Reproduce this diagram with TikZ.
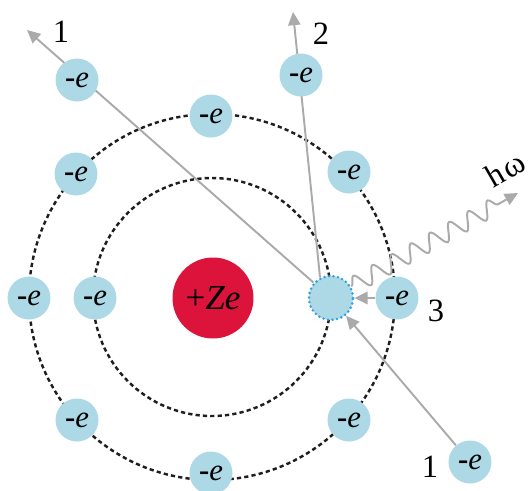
\documentclass[tikz,border=0pt]{standalone}
\usepackage{fontspec}
\setmainfont{Liberation Serif}
\usetikzlibrary{arrows.meta,backgrounds,decorations.pathmorphing}

\definecolor{elblue}{RGB}{173,216,230}
\definecolor{nucred}{RGB}{220,20,60}
\definecolor{vacblue}{RGB}{50,160,225}
\definecolor{trackgray}{RGB}{170,170,170}
\definecolor{orbitgray}{RGB}{30,30,30}

\begin{document}
\begin{tikzpicture}[x=0.02cm, y=-0.02cm,
    electron/.style={circle, fill=elblue, minimum size=0.86cm, inner sep=0pt,
                     font=\fontsize{17.5}{20}\selectfont},
    nucleus/.style={circle, fill=nucred, minimum size=1.62cm, inner sep=0pt,
                    font=\fontsize{20}{23}\selectfont},
    vacancy/.style={circle, fill=elblue, minimum size=0.88cm, inner sep=0pt,
                    draw=vacblue, line width=1.6pt, line cap=round,
                    dash pattern=on 0pt off 2.6pt},
    orbit/.style={draw=orbitgray, line width=1.4pt, dash pattern=on 2.4pt off 1.8pt},
    track/.style={draw=trackgray, line width=1.1pt},
    trackarrow/.style={track, -{Triangle[length=7.5pt, width=7pt]}},
    photon/.style={trackarrow, decorate,
                   decoration={snake, segment length=0.44cm, amplitude=0.17cm,
                               post length=0.3cm}},
    lbl/.style={font=\fontsize{18.5}{21}\selectfont},
]
\useasboundingbox (0,0) rectangle (532,491);

% atom
\coordinate (c) at (212,297);
\node[nucleus] (nuc) at (213,298) {+\textit{Ze}};

% outer shell
\node[electron] (o1) at (211,116) {\textbf{-}\textit{e}};
\node[electron] (o2) at (349,172) {\textbf{-}\textit{e}};
\node[electron] (o3) at (76,174) {\textbf{-}\textit{e}};
\node[electron] (o4) at (29,298) {\textbf{-}\textit{e}};
\node[electron] (e3) at (397,298) {\textbf{-}\textit{e}};
\node[electron] (o5) at (77,420) {\textbf{-}\textit{e}};
\node[electron] (o6) at (349,420) {\textbf{-}\textit{e}};
\node[electron] (o7) at (211,473) {\textbf{-}\textit{e}};

% inner shell
\node[electron] (i1) at (95,298) {\textbf{-}\textit{e}};
\node[vacancy] (vac) at (331,298) {};

% ejected and incoming electrons
\node[electron] (e1out) at (77,80) {\textbf{-}\textit{e}};
\node[electron] (e2out) at (301,75) {\textbf{-}\textit{e}};
\node[electron] (e1in) at (470,462) {\textbf{-}\textit{e}};

\coordinate (tip1) at (27,30);
\coordinate (tip2) at (293,12);
\coordinate (tiph) at (518,193);

\begin{scope}[on background layer]
  \draw[orbit] (c) circle[radius=119];
  \draw[orbit] (c) circle[radius=183];
  \draw[trackarrow] (vac) -- (tip1);
  \draw[trackarrow] (vac.118) -- (tip2);
\end{scope}
\draw[trackarrow] (e1in) -- (vac);
\draw[trackarrow] (e3) -- (vac);
\draw[photon] (vac) -- (tiph);

% labels
\node[lbl] (l1out) at (61,32) {1};
\node[lbl] (l2) at (321,34) {2};
\node[lbl] (l3) at (436,311) {3};
\node[lbl] (l1in) at (430,467) {1};
\node[lbl, rotate=30, inner sep=0pt] (lh) at (505,169) {h\kern1.5pt ω};
\end{tikzpicture}
\end{document}
